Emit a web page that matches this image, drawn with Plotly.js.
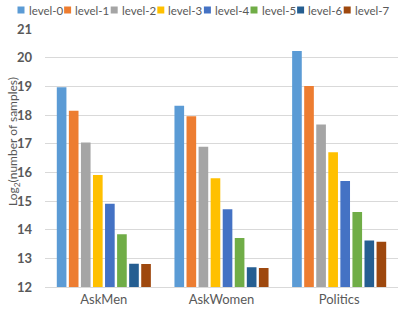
<!DOCTYPE html>
<html>
<head>
<meta charset="utf-8">
<script src="https://cdn.plot.ly/plotly-3.0.1.min.js"></script>
<style>html,body{margin:0;padding:0;background:#fff;}#chart{width:398px;height:312px;}</style>
</head>
<body>
<div id="chart"></div>
<script>
const categories = ["AskMen", "AskWomen", "Politics"];
const levelNames = ["level-0", "level-1", "level-2", "level-3", "level-4", "level-5", "level-6", "level-7"];
const level0 = [18.97, 18.32, 20.23];
const level1 = [18.15, 17.96, 19.01];
const level2 = [17.04, 16.89, 17.67];
const level3 = [15.91, 15.79, 16.70];
const level4 = [14.90, 14.71, 15.70];
const level5 = [13.84, 13.71, 14.62];
const level6 = [12.81, 12.69, 13.62];
const level7 = [12.80, 12.66, 13.58];
const yTicks = [12, 13, 14, 15, 16, 17, 18, 19, 20, 21];

const series = [level0, level1, level2, level3, level4, level5, level6, level7];
const colors = ["#5B9BD5", "#ED7D31", "#A5A5A5", "#FFC000", "#4472C4", "#70AD47", "#255E91", "#9E480E"];
const FONT = "Lato, 'Liberation Sans', sans-serif";
const GREY = "#595959";

const traces = series.map((vals, i) => ({
  type: "bar",
  name: levelNames[i],
  x: categories,
  y: vals,
  marker: {color: colors[i], line: {width: 0}},
  showlegend: false,
  hoverinfo: "skip"
}));

// Legend built from shapes + annotations (pixel -> paper conversion)
const L = 45, W = 353, T = 29, H = 258;
const px2x = (px) => (px - L) / W;
const py2y = (py) => 1 - (py - T) / H;
const shapes = [];
const annotations = [];
levelNames.forEach((name, i) => {
  const sx = 17.5 + 46.6 * i;
  shapes.push({type: "rect", xref: "paper", yref: "paper",
    x0: px2x(sx), x1: px2x(sx + 7), y0: py2y(13.5), y1: py2y(6.5),
    fillcolor: colors[i], line: {width: 0}});
  annotations.push({xref: "paper", yref: "paper", x: px2x(sx + 9), y: py2y(10),
    xanchor: "left", yanchor: "middle", showarrow: false, text: name,
    font: {family: FONT, size: 11.5, color: GREY}});
});
annotations.push({xref: "paper", yref: "paper", x: px2x(13), y: py2y(142),
  xanchor: "center", yanchor: "middle", showarrow: false, textangle: -90,
  text: "Log<sub>2</sub>(number of samples)", font: {family: FONT, size: 12, color: GREY}});

const layout = {
  width: 398, height: 312,
  margin: {l: L, r: 0, t: T, b: 312 - T - H, pad: 0},
  paper_bgcolor: "#ffffff", plot_bgcolor: "#ffffff",
  font: {family: FONT, color: GREY},
  barmode: "group", bargap: 0.18, bargroupgap: 0.2,
  showlegend: false,
  xaxis: {
    type: "category", showgrid: false, showline: true, linecolor: "#D9D9D9", linewidth: 1,
    ticks: "", tickfont: {family: FONT, size: 13, color: GREY}, fixedrange: true
  },
  yaxis: {
    range: [12, 21], tickvals: yTicks,
    showgrid: true, gridcolor: "#D9D9D9", gridwidth: 1, zeroline: false, showline: false,
    ticks: "", ticklabelstandoff: 12, tickfont: {family: FONT, size: 13, color: GREY, weight: "bold"}, fixedrange: true
  },
  shapes: shapes,
  annotations: annotations
};

Plotly.newPlot("chart", traces, layout, {staticPlot: true, displayModeBar: false});
</script>
</body>
</html>
